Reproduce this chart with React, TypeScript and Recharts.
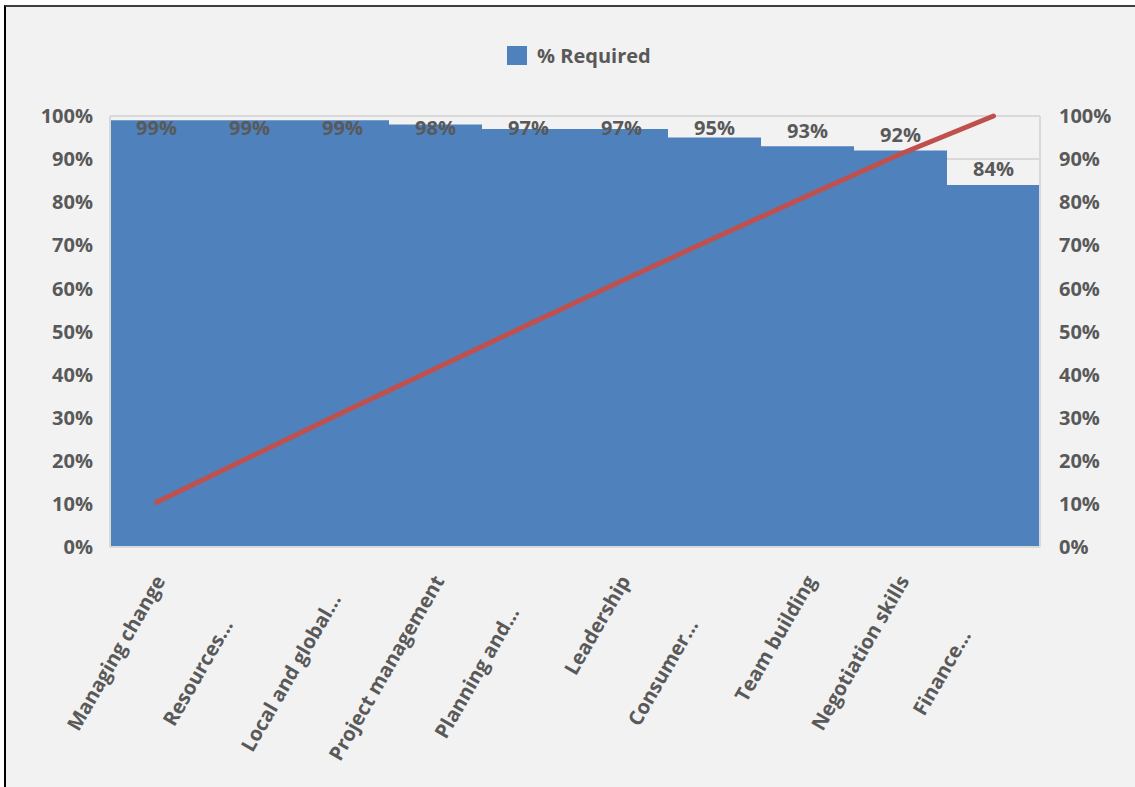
import React from 'react';
import {
  ComposedChart,
  Bar,
  Line,
  XAxis,
  YAxis,
  CartesianGrid,
  Legend,
  LabelList,
} from 'recharts';

// Skill areas, share of respondents who marked each as required, and the running cumulative share
const categories = [
  'Managing change',
  'Resources...',
  'Local and global...',
  'Project management',
  'Planning and...',
  'Leadership',
  'Consumer...',
  'Team building',
  'Negotiation skills',
  'Finance...',
];
const required = [99, 99, 99, 98, 97, 97, 95, 93, 92, 84];
const cumulative = [10.4, 20.8, 31.2, 41.4, 51.6, 61.7, 71.7, 81.5, 91.2, 100];
const percentTicks = [0, 10, 20, 30, 40, 50, 60, 70, 80, 90, 100];

const data = categories.map((name, i) => ({
  name,
  required: required[i],
  cumulative: cumulative[i],
}));

const FONT = '"Open Sans", "Noto Sans", sans-serif';
const TEXT = '#595959';
const BLUE = '#4F81BD';
const RED = '#C0504D';
const GRID = '#D9D9D9';

const pct = (v: number) => `${v}%`;

// Value label above each bar, pushed down inside the plot when it would cross the top edge
const BarValueLabel = (props: any) => {
  const x = Number(props.x);
  const y = Number(props.y);
  const width = Number(props.width);
  const height = Number(props.height);
  const value = Number(props.value);
  const bottom = y + height;
  const plotTop = bottom - (height * 100) / value;
  const cy = Math.max(y - 16, plotTop + 11);
  return (
    <text
      x={x + width / 2}
      y={cy}
      textAnchor="middle"
      dominantBaseline="central"
      fill={TEXT}
      fontFamily={FONT}
      fontWeight={700}
      fontSize={20}
    >
      {pct(value)}
    </text>
  );
};

// Rotated category label; shortened names are centred in the label band
const CategoryTick = (props: any) => {
  const { x, y, payload } = props;
  const label: string = String(payload.value);
  const px = Number(x) + 3;
  const py = Number(y) + 28;
  const shortened = label.endsWith('...');
  return (
    <text
      x={shortened ? px - 110 : px}
      y={py}
      transform={`rotate(-60, ${px}, ${py})`}
      textAnchor={shortened ? 'middle' : 'end'}
      dominantBaseline="central"
      fill={TEXT}
      fontFamily={FONT}
      fontWeight={700}
      fontSize={20}
    >
      {label}
    </text>
  );
};

const LegendContent = () => (
  <div
    style={{
      display: 'flex',
      alignItems: 'center',
      whiteSpace: 'nowrap',
      fontFamily: FONT,
      fontWeight: 700,
      fontSize: 20,
      color: TEXT,
    }}
  >
    <span
      style={{
        display: 'inline-block',
        width: 20,
        height: 19,
        background: BLUE,
        marginRight: 10,
      }}
    />
    <span>% Required</span>
  </div>
);

export default function App() {
  return (
    <div
      style={{
        position: 'absolute',
        left: 0,
        top: 0,
        width: 1135,
        height: 787,
        background: '#FFFFFF',
        overflow: 'hidden',
      }}
    >
      <div
        style={{
          position: 'absolute',
          left: 4,
          top: 5,
          width: 1200,
          height: 850,
          background: '#F2F2F2',
          borderLeft: '2px solid #000000',
          borderTop: '2px solid #3F3F3F',
        }}
      />
      <div style={{ position: 'absolute', left: 0, top: 0 }}>
        <ComposedChart
          width={1135}
          height={787}
          data={data}
          margin={{ top: 116, right: 0, bottom: 0, left: 0 }}
          barCategoryGap={0}
          barGap={0}
        >
          <CartesianGrid
            vertical={false}
            stroke={GRID}
            strokeWidth={2}
            yAxisId="left"
          />
          <XAxis
            dataKey="name"
            interval={0}
            height={240}
            tickLine={false}
            tickSize={0}
            axisLine={{ stroke: GRID, strokeWidth: 2 }}
            tick={<CategoryTick />}
          />
          <YAxis
            yAxisId="left"
            orientation="left"
            width={110}
            domain={[0, 100]}
            ticks={percentTicks}
            tickFormatter={pct}
            tickLine={false}
            tickMargin={11}
            axisLine={{ stroke: GRID, strokeWidth: 2 }}
            tick={{ fill: TEXT, fontFamily: FONT, fontWeight: 700, fontSize: 20 }}
          />
          <YAxis
            yAxisId="right"
            orientation="right"
            width={95}
            domain={[0, 100]}
            ticks={percentTicks}
            tickFormatter={pct}
            tickLine={false}
            tickMargin={13}
            axisLine={{ stroke: GRID, strokeWidth: 2 }}
            tick={{ fill: TEXT, fontFamily: FONT, fontWeight: 700, fontSize: 20 }}
          />
          <Legend
            verticalAlign="top"
            align="left"
            content={<LegendContent />}
            wrapperStyle={{ top: 42, left: 507, width: 200, height: 0, overflow: 'visible' }}
          />
          <Bar
            yAxisId="left"
            dataKey="required"
            name="% Required"
            fill={BLUE}
            isAnimationActive={false}
          >
            <LabelList dataKey="required" content={<BarValueLabel />} />
          </Bar>
          <Line
            yAxisId="right"
            dataKey="cumulative"
            type="linear"
            stroke={RED}
            strokeWidth={5}
            strokeLinecap="round"
            dot={false}
            activeDot={false}
            legendType="none"
            isAnimationActive={false}
          />
        </ComposedChart>
      </div>
    </div>
  );
}
